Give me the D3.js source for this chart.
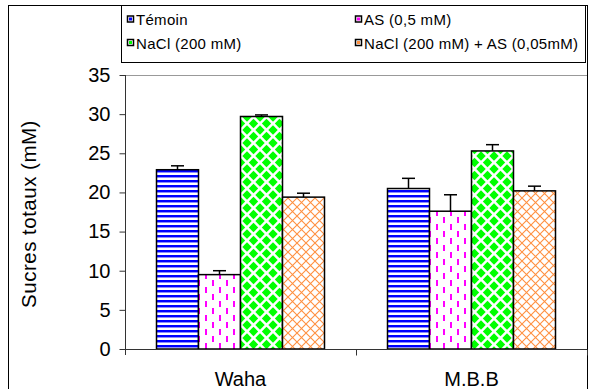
<!DOCTYPE html>
<html lang="fr">
<head>
<meta charset="UTF-8">
<title>Sucres totaux</title>
<script src="https://d3js.org/d3.v7.min.js"></script>
<style>
  body { margin: 0; background: #fff; }
  svg text { font-family: "Liberation Sans", Arial, sans-serif; fill: #000; }
</style>
</head>
<body>
<div id="chart"></div>
<script>
// data
var categories = ["Waha", "M.B.B"];
var seriesNames = ["Témoin", "AS (0,5 mM)", "NaCl (200 mM)", "NaCl (200 mM) + AS (0,05mM)"];
var temoin  = [22.9, 20.5];
var as05    = [9.5, 17.6];
var nacl    = [29.7, 25.3];
var naclAs  = [19.4, 20.2];
var errTemoin = [0.5, 1.3];
var errAs05   = [0.5, 2.1];
var errNacl   = [0.2, 0.8];
var errNaclAs = [0.5, 0.6];
var yTicks = [0, 5, 10, 15, 20, 25, 30, 35];

var seriesValues = [temoin, as05, nacl, naclAs];
var seriesErrors = [errTemoin, errAs05, errNacl, errNaclAs];
var patternIds = ["p-stripes", "p-dashes", "p-diamonds", "p-cross"];
var markerColors = ["#0000ff", "#ff00ff", "#00ff00", "#ff9040"];

var W = 596, H = 389;
var svg = d3.select("#chart").append("svg").attr("width", W).attr("height", H);

// patterns
var defs = svg.append("defs");
var p1 = defs.append("pattern").attr("id", "p-stripes").attr("patternUnits", "userSpaceOnUse")
  .attr("width", 8).attr("height", 5);
p1.append("rect").attr("width", 8).attr("height", 5).attr("fill", "#fff");
p1.append("rect").attr("y", 0).attr("width", 8).attr("height", 2).attr("fill", "#0000ff");
p1.append("rect").attr("y", 2).attr("width", 8).attr("height", 1).attr("fill", "#8c8cff");

var p2 = defs.append("pattern").attr("id", "p-dashes").attr("patternUnits", "userSpaceOnUse")
  .attr("width", 14).attr("height", 14);
p2.append("rect").attr("width", 14).attr("height", 14).attr("fill", "#fff");
p2.append("rect").attr("x", 2).attr("y", 0).attr("width", 2).attr("height", 6).attr("fill", "#ff00ff");
p2.append("rect").attr("x", 9).attr("y", 7).attr("width", 2).attr("height", 6).attr("fill", "#ff00ff");

var P = 13, d = 4.7;
var p3 = defs.append("pattern").attr("id", "p-diamonds").attr("patternUnits", "userSpaceOnUse")
  .attr("width", P).attr("height", P);
p3.append("rect").attr("width", P).attr("height", P).attr("fill", "#fff");
[[0, 0], [P, 0], [0, P], [P, P], [P / 2, P / 2]].forEach(function(c) {
  p3.append("path")
    .attr("d", "M" + c[0] + "," + (c[1] - d) + "L" + (c[0] + d) + "," + c[1] +
               "L" + c[0] + "," + (c[1] + d) + "L" + (c[0] - d) + "," + c[1] + "Z")
    .attr("fill", "#00ff00");
});

var Q = 9;
var p4 = defs.append("pattern").attr("id", "p-cross").attr("patternUnits", "userSpaceOnUse")
  .attr("width", Q).attr("height", Q);
p4.append("rect").attr("width", Q).attr("height", Q).attr("fill", "#fff");
p4.append("path").attr("d", "M0,0L" + Q + "," + Q + "M" + Q + ",0L0," + Q)
  .attr("stroke", "#ff9040").attr("stroke-width", 1.1).attr("fill", "none");

// outer chart border
svg.append("rect").attr("x", 8.5).attr("y", 5.5).attr("width", 579).attr("height", 400)
  .attr("fill", "none").attr("stroke", "#000").attr("stroke-width", 1);

// scales
var plotLeft = 125, plotRight = 587, plotTop = 75, plotBottom = 349;
var x = d3.scaleBand().domain(categories).range([plotLeft, plotRight]).padding(0);
var barW = x.bandwidth() / 5.5;
var xs = d3.scaleBand().domain(seriesNames).range([0, barW * 4]).padding(0);
var y = d3.scaleLinear().domain([0, 35]).range([plotBottom, plotTop]);

// plot area top border (grey)
svg.append("line").attr("x1", plotLeft).attr("x2", plotRight)
  .attr("y1", plotTop + 0.5).attr("y2", plotTop + 0.5)
  .attr("stroke", "#999").attr("stroke-width", 1);

// bars
var flat = [];
seriesNames.forEach(function(s, i) {
  categories.forEach(function(c, j) {
    flat.push({ s: s, i: i, c: c, v: seriesValues[i][j], e: seriesErrors[i][j] });
  });
});

var groupOffset = barW * 0.75;
svg.selectAll(".bar").data(flat).enter().append("rect")
  .attr("class", "bar")
  .attr("x", function(d) { return x(d.c) + groupOffset + xs(d.s); })
  .attr("y", function(d) { return y(d.v); })
  .attr("width", xs.bandwidth())
  .attr("height", function(d) { return y(0) - y(d.v); })
  .attr("fill", function(d) { return "url(#" + patternIds[d.i] + ")"; })
  .attr("stroke", "#000").attr("stroke-width", 1.5);

// error bars (upper only)
var cap = 6.5;
var eb = svg.selectAll(".err").data(flat).enter().append("g").attr("class", "err");
eb.append("line")
  .attr("x1", function(d) { return x(d.c) + groupOffset + xs(d.s) + xs.bandwidth() / 2; })
  .attr("x2", function(d) { return x(d.c) + groupOffset + xs(d.s) + xs.bandwidth() / 2; })
  .attr("y1", function(d) { return y(d.v); })
  .attr("y2", function(d) { return y(d.v + d.e); })
  .attr("stroke", "#000").attr("stroke-width", 1.5);
eb.append("line")
  .attr("x1", function(d) { return x(d.c) + groupOffset + xs(d.s) + xs.bandwidth() / 2 - cap; })
  .attr("x2", function(d) { return x(d.c) + groupOffset + xs(d.s) + xs.bandwidth() / 2 + cap; })
  .attr("y1", function(d) { return y(d.v + d.e); })
  .attr("y2", function(d) { return y(d.v + d.e); })
  .attr("stroke", "#000").attr("stroke-width", 1.5);

// y axis
var yAxis = svg.append("g").attr("transform", "translate(" + (plotLeft + 0.5) + ",0)")
  .call(d3.axisLeft(y).tickValues(yTicks).tickSize(6).tickPadding(9));
yAxis.select(".domain").attr("d", "M0," + plotTop + "V" + (plotBottom + 6));
yAxis.selectAll("line, path").attr("stroke", "#333");
yAxis.selectAll("text").style("font-size", "20px");

// x axis
var xAxis = svg.append("g").attr("transform", "translate(0," + (plotBottom + 0.5) + ")");
xAxis.append("line").attr("x1", plotLeft).attr("x2", plotRight).attr("stroke", "#333");
xAxis.selectAll(".tk").data(categories).enter().append("line")
  .attr("x1", function(c) { return Math.round(x(c) + x.bandwidth()) + 0.5; })
  .attr("x2", function(c) { return Math.round(x(c) + x.bandwidth()) + 0.5; })
  .attr("y1", 0).attr("y2", 6).attr("stroke", "#333");
xAxis.selectAll(".lbl").data(categories).enter().append("text")
  .attr("x", function(c) { return x(c) + x.bandwidth() / 2; })
  .attr("y", 36.5)
  .attr("text-anchor", "middle")
  .style("font-size", "20px")
  .text(function(c) { return c; });

// y axis title
svg.append("text")
  .attr("transform", "translate(36,214) rotate(-90)")
  .attr("text-anchor", "middle")
  .style("font-size", "20.5px")
  .style("letter-spacing", "0.5px")
  .text("Sucres totaux (mM)");

// legend
var lg = svg.append("g");
lg.append("rect").attr("x", 121.5).attr("y", 5.5).attr("width", 464).attr("height", 57)
  .attr("fill", "#fff").attr("stroke", "#000").attr("stroke-width", 1);
var legX = [127, 355], legY = [19.5, 43];
var items = lg.selectAll(".li").data(seriesNames).enter().append("g")
  .attr("transform", function(s, i) { return "translate(" + legX[i % 2] + "," + legY[Math.floor(i / 2)] + ")"; });
items.append("rect").attr("x", 0.5).attr("y", -3.5).attr("width", 6).attr("height", 6)
  .attr("fill", "#fff").attr("stroke", "#000").attr("stroke-width", 1.5);
items.append("rect").attr("x", 2).attr("y", -2).attr("width", 3).attr("height", 3)
  .attr("fill", function(s, i) { return markerColors[i]; });
items.append("text").attr("x", 9).attr("y", 5.5)
  .style("font-size", "15px")
  .style("letter-spacing", "0.3px")
  .text(function(s) { return s; });
</script>
</body>
</html>
